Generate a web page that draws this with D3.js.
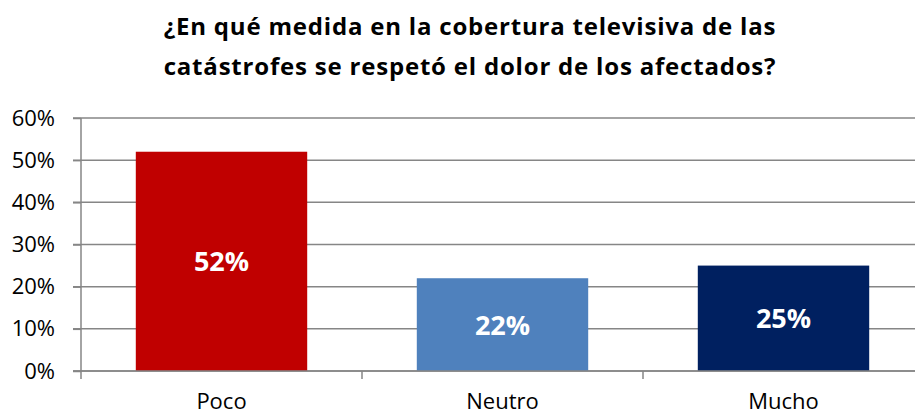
<!DOCTYPE html>
<html>
<head>
<meta charset="utf-8">
<script src="https://cdn.jsdelivr.net/npm/d3@7"></script>
<style>
body { margin: 0; background: #fff; }
text { font-family: "Open Sans", sans-serif; }
</style>
</head>
<body>
<svg width="915" height="415"></svg>
<script>
var categories = ["Poco", "Neutro", "Mucho"];
var values = [52, 22, 25];
var colors = ["#C00000", "#4F81BD", "#002060"];
var yTicks = [0, 10, 20, 30, 40, 50, 60];
var titleLines = ["¿En qué medida en la cobertura televisiva de las", "catástrofes se respetó el dolor de los afectados?"];

var margin = {left: 81, right: -9, top: 118, bottom: 44};
var width = 915, height = 415;

var svg = d3.select("svg");

var x = d3.scaleBand()
  .domain(categories)
  .range([margin.left, width - margin.right])
  .paddingInner(0.39)
  .paddingOuter(0.195);

var y = d3.scaleLinear()
  .domain([0, 60])
  .range([height - margin.bottom, margin.top]);

// title
svg.append("g").selectAll("text")
  .data(titleLines)
  .enter().append("text")
  .attr("x", 470)
  .attr("y", function(d, i) { return 35 + i * 40; })
  .attr("text-anchor", "middle")
  .style("font-size", "24px")
  .style("letter-spacing", "0.8px")
  .style("font-weight", "bold")
  .text(function(d) { return d; });

// gridlines
svg.append("g").selectAll("line")
  .data(yTicks)
  .enter().append("line")
  .attr("x1", margin.left - 8)
  .attr("x2", width)
  .attr("y1", function(d) { return y(d); })
  .attr("y2", function(d) { return y(d); })
  .attr("stroke", "#868686")
  .attr("stroke-width", 1.5);

// y axis
var yAxis = svg.append("g")
  .attr("transform", "translate(" + margin.left + ",0)")
  .call(d3.axisLeft(y).tickValues(yTicks).tickSize(8).tickPadding(18)
    .tickFormat(function(d) { return d + "%"; }));
yAxis.select(".domain").attr("stroke", "#868686").attr("stroke-width", 1.5)
  .attr("d", "M0," + y(60) + "V" + (y(0) + 8));
yAxis.selectAll(".tick line").attr("stroke", "#868686").attr("stroke-width", 1.5);
yAxis.selectAll(".tick text").style("font-size", "22px").attr("fill", "#000")
  .style("font-family", "'Open Sans', sans-serif");

// bars
svg.append("g").selectAll("rect")
  .data(values)
  .enter().append("rect")
  .attr("x", function(d, i) { return x(categories[i]); })
  .attr("width", x.bandwidth())
  .attr("y", function(d) { return y(d); })
  .attr("height", function(d) { return y(0) - y(d); })
  .attr("fill", function(d, i) { return colors[i]; });

// bar labels
svg.append("g").selectAll("text")
  .data(values)
  .enter().append("text")
  .attr("x", function(d, i) { return x(categories[i]) + x.bandwidth() / 2; })
  .attr("y", function(d) { return (y(d) + y(0)) / 2 + 10; })
  .attr("text-anchor", "middle")
  .attr("fill", "#fff")
  .style("font-size", "27px")
  .style("font-weight", "bold")
  .text(function(d) { return d + "%"; });

// x axis baseline and category ticks
var step = x.step();
var bounds = [margin.left + step, margin.left + 2 * step];
svg.append("g").selectAll("line")
  .data(bounds)
  .enter().append("line")
  .attr("x1", function(d) { return d; })
  .attr("x2", function(d) { return d; })
  .attr("y1", y(0))
  .attr("y2", y(0) + 8)
  .attr("stroke", "#868686")
  .attr("stroke-width", 1.5);

svg.append("line")
  .attr("x1", margin.left - 8).attr("x2", width)
  .attr("y1", y(0)).attr("y2", y(0))
  .attr("stroke", "#868686").attr("stroke-width", 1.5);

svg.append("g").selectAll("text")
  .data(categories)
  .enter().append("text")
  .attr("x", function(d) { return x(d) + x.bandwidth() / 2; })
  .attr("y", 409)
  .attr("text-anchor", "middle")
  .style("font-size", "22px")
  .text(function(d) { return d; });
</script>
</body>
</html>
